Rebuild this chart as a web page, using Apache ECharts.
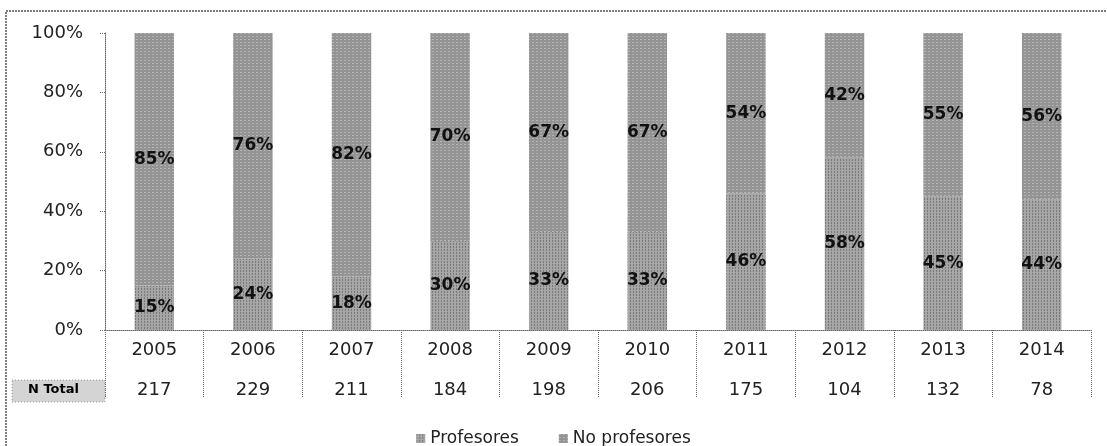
<!DOCTYPE html>
<html>
<head>
<meta charset="utf-8">
<script src="https://cdn.jsdelivr.net/npm/echarts@6/dist/echarts.min.js"></script>
<style>
  html, body { margin: 0; padding: 0; background: #fff; }
  #chart { width: 1107px; height: 446px; }
</style>
</head>
<body>
<div id="chart"></div>
<script>
// datos
var years = ['2005', '2006', '2007', '2008', '2009', '2010', '2011', '2012', '2013', '2014'];
var nTotal = [217, 229, 211, 184, 198, 206, 175, 104, 132, 78];
var profesores = [15, 24, 18, 30, 33, 33, 46, 58, 45, 44];
var noProfesores = [85, 76, 82, 70, 67, 67, 54, 42, 55, 56];

var fontMain = 'DejaVu Sans';

function snapshotChart(id) {
    var myChart = echarts.init(document.getElementById(id));

    var barLabel = {
        show: true,
        position: 'inside',
        formatter: '{c}%',
        color: '#111',
        fontFamily: fontMain,
        fontWeight: 'bold',
        fontSize: 17
    };

    var option = {
        animation: false,
        aria: {
            enabled: true,
            decal: { show: true }
        },
        graphic: [
            {
                // marco exterior
                type: 'rect',
                shape: { x: 6, y: 11, width: 1110, height: 450 },
                style: { fill: 'none', stroke: '#555', lineWidth: 1.5, lineDash: [2, 1] },
                silent: true
            },
            {
                type: 'rect',
                shape: { x: 12, y: 380, width: 93, height: 22 },
                style: { fill: '#d4d4d4', stroke: '#999', lineWidth: 1, lineDash: [1, 2] },
                silent: true
            },
            {
                type: 'text',
                left: 28,
                top: 383,
                style: {
                    text: 'N Total',
                    fontFamily: fontMain,
                    fontWeight: 'bold',
                    fontSize: 13,
                    fill: '#000'
                }
            }
        ],
        legend: {
            top: 425,
            left: 'center',
            itemWidth: 9,
            itemHeight: 9,
            itemGap: 40,
            icon: 'rect',
            textStyle: {
                fontFamily: fontMain,
                fontSize: 17,
                color: '#222'
            },
            data: ['Profesores', 'No profesores']
        },
        grid: {
            left: 105,
            right: 16,
            top: 33,
            bottom: 116,
            containLabel: false
        },
        xAxis: {
            type: 'category',
            data: years,
            axisLine: {
                lineStyle: { color: '#666', type: 'dotted', width: 1 }
            },
            axisTick: {
                show: true,
                interval: 0,
                alignWithLabel: false,
                length: 68,
                lineStyle: { color: '#666', type: 'dotted', width: 1 }
            },
            axisLabel: {
                interval: 0,
                margin: 0,
                formatter: function (value, idx) {
                    return '{y|' + value + '}\n{n|' + nTotal[idx] + '}';
                },
                rich: {
                    y: {
                        fontFamily: fontMain,
                        fontSize: 18,
                        color: '#222',
                        lineHeight: 40
                    },
                    n: {
                        fontFamily: fontMain,
                        fontSize: 18,
                        color: '#222',
                        lineHeight: 40
                    }
                }
            }
        },
        yAxis: {
            type: 'value',
            min: 0,
            max: 100,
            interval: 20,
            axisLine: {
                show: true,
                lineStyle: { color: '#666', type: 'dotted', width: 1 }
            },
            axisTick: {
                show: true,
                length: 5,
                lineStyle: { color: '#666', type: 'dotted' }
            },
            splitLine: { show: false },
            axisLabel: {
                margin: 22,
                formatter: '{value}%',
                fontFamily: fontMain,
                fontSize: 18,
                color: '#222'
            }
        },
        series: [
            {
                name: 'Profesores',
                type: 'bar',
                stack: 'total',
                barWidth: '40%',
                data: profesores,
                label: barLabel,
                itemStyle: {
                    color: '#a6a6a6',
                    decal: {
                        symbol: 'rect',
                        symbolSize: 1,
                        color: 'rgba(40,40,40,0.35)',
                        dashArrayX: [1, 2],
                        dashArrayY: [2, 1],
                        rotation: 0
                    }
                }
            },
            {
                name: 'No profesores',
                type: 'bar',
                stack: 'total',
                barWidth: '40%',
                data: noProfesores,
                label: barLabel,
                itemStyle: {
                    color: '#949494',
                    decal: {
                        symbol: 'rect',
                        symbolSize: 1,
                        color: 'rgba(255,255,255,0.3)',
                        dashArrayX: [2, 2],
                        dashArrayY: [1, 2],
                        rotation: 0
                    }
                }
            }
        ]
    };

    myChart.setOption(option);
    window.addEventListener('resize', function () {
        myChart.resize();
    });
}

snapshotChart('chart');
</script>
</body>
</html>
